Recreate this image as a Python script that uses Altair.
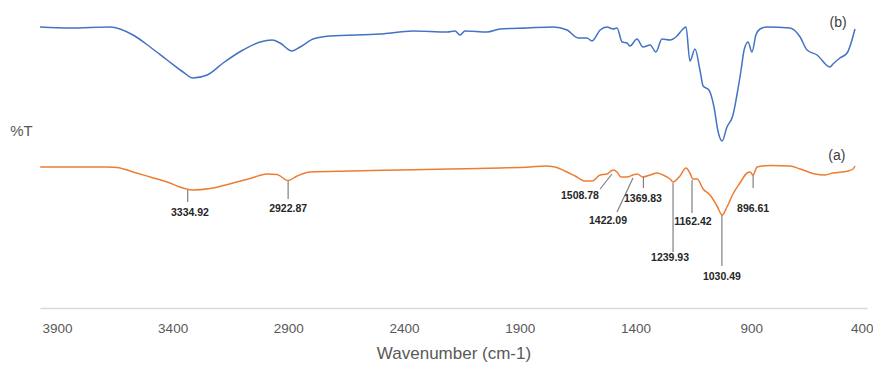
import altair as alt
import pandas as pd

# ---- spectrum (b), blue (upper trace) : wavenumber, %T (offset units)
b_wn = [3973, 3843, 3670, 3571, 3497, 3424, 3355, 3312, 3251, 3182, 3096, 3022, 2970, 2936,
        2884, 2849, 2793, 2720, 2504, 2361, 2214, 2180, 2158, 2137, 2042, 1985, 1869, 1756,
        1696, 1648, 1610, 1588, 1553, 1523, 1497, 1480, 1458, 1437, 1424, 1394, 1368, 1337,
        1312, 1286, 1251, 1221, 1199, 1182, 1165, 1143, 1121, 1108, 1083, 1061, 1044, 1026,
        1005, 979, 962, 944, 931, 914, 897, 880, 862, 832, 733, 689, 659, 616, 560, 547,
        517, 486, 452]
b_t = [281, 280, 281, 273, 261, 248, 236, 230, 233, 245, 258, 266, 268, 265,
       257, 261, 269, 272, 274, 277, 276, 277, 273, 277, 276, 279, 280, 281,
       278, 270, 270, 267, 278, 281, 279, 280, 266, 265, 262, 269, 261, 263,
       256, 269, 268, 272, 278, 281, 247, 259, 237, 222, 218, 201, 177, 167,
       181, 193, 213, 238, 258, 266, 256, 273, 279, 281, 280, 271, 258, 253, 241, 244,
       250, 255, 279]

# ---- spectrum (a), orange (lower trace)
a_wn = [3972, 3683, 3640, 3571, 3497, 3424, 3355, 3312, 3238, 3139, 3065, 2992, 2949, 2901,
        2862, 2806, 2633, 2417, 2201, 1985, 1856, 1791, 1748, 1705, 1661, 1618, 1588, 1553,
        1523, 1497, 1480, 1463, 1437, 1411, 1393, 1368, 1337, 1307, 1281, 1251, 1238, 1208,
        1182, 1165, 1152, 1134, 1108, 1078, 1048, 1026, 1005, 979, 949, 918, 905, 892, 875,
        819, 733, 689, 625, 581, 547, 482, 460, 452]
a_t = [141, 141, 140.5, 136, 131, 126, 120, 118, 119.5, 125, 129.5, 134, 133.5, 127.5,
       132, 136, 137, 138, 139, 140, 141, 142, 141, 137, 132, 127, 127, 133,
       134, 138, 136, 131, 131, 133, 134, 131, 133, 135, 133, 129, 126, 132,
       140, 135, 129, 129, 119, 113, 102, 93, 101, 114, 125, 135, 136, 133, 141,
       142.5, 142, 139, 134, 133, 135, 137, 139, 142]

# ---- peak annotations on (a)
ann_label = ["3334.92", "2922.87", "1508.78", "1422.09", "1369.83", "1239.93", "1162.42", "1030.49", "896.61"]
ann_x1 = [3334.92, 2901, 1502, 1411, 1366, 1238, 1156, 1027, 892]
ann_y1 = [118, 127, 134, 130, 131, 125, 128, 93, 133]
ann_x2 = [3334.92, 2901, 1553, 1480, 1366, 1238, 1156, 1027, 892]
ann_y2 = [106, 109, 119, 96, 120, 56, 95, 42, 120]
ann_tx = [3325, 2901, 1640, 1519, 1368, 1251, 1152, 1027, 892]
ann_ty = [95, 99, 112, 87, 109, 50, 86, 31, 99]

# ---- series tags
tag_text = ["(b)", "(a)"]
tag_wn = [525, 530]
tag_t = [285, 152]

x_ticks = [3900, 3400, 2900, 2400, 1900, 1400, 900, 400]

FONT = "Liberation Sans"

df_b = pd.DataFrame({"wn": b_wn, "t": b_t})
df_a = pd.DataFrame({"wn": a_wn, "t": a_t})
df_ann = pd.DataFrame({"label": ann_label, "x1": ann_x1, "y1": ann_y1, "x2": ann_x2,
                       "y2": ann_y2, "tx": ann_tx, "ty": ann_ty})
df_tag = pd.DataFrame({"text": tag_text, "wn": tag_wn, "t": tag_t})

xscale = alt.Scale(domain=[400, 3973], reverse=True, nice=False, zero=False)
yscale = alt.Scale(domain=[0, 298], nice=False, zero=False)

last_tick = "datum.value == %d" % x_ticks[-1]
xaxis = alt.Axis(values=x_ticks, format="d", ticks=False, grid=False,
                 domainColor="#d9d9d9", domainWidth=1.5,
                 labelColor="#595959", labelFontSize=13.5, labelFont=FONT,
                 labelPadding=13, labelFlush=False,
                 labelAlign=alt.condition(last_tick, alt.value("right"), alt.value("center")),
                 labelOffset=alt.condition(last_tick, alt.value(6), alt.value(0)),
                 title="Wavenumber (cm-1)", titleColor="#595959", titleFont=FONT,
                 titleFontSize=17, titleFontWeight="normal", titlePadding=11)
yaxis = alt.Axis(labels=False, ticks=False, domain=False, grid=False,
                 title="%T", titleAngle=0, titleX=-19, titleY=120, titleAlign="center",
                 titleBaseline="middle", titleColor="#595959", titleFont=FONT,
                 titleFontSize=15, titleFontWeight="normal")

line_b = alt.Chart(df_b).mark_line(color="#4472C4", strokeWidth=1.5, interpolate="monotone").encode(
    x=alt.X("wn:Q", scale=xscale, axis=xaxis),
    y=alt.Y("t:Q", scale=yscale, axis=yaxis),
)
line_a = alt.Chart(df_a).mark_line(color="#ED7D31", strokeWidth=1.5, interpolate="monotone").encode(
    x=alt.X("wn:Q", scale=xscale),
    y=alt.Y("t:Q", scale=yscale),
)
leaders = alt.Chart(df_ann).mark_rule(color="#808080", strokeWidth=1.2).encode(
    x=alt.X("x1:Q", scale=xscale), x2="x2:Q",
    y=alt.Y("y1:Q", scale=yscale), y2="y2:Q",
)
labels = alt.Chart(df_ann).mark_text(font=FONT, fontSize=10.5, fontWeight="bold",
                                     color="#262626").encode(
    x=alt.X("tx:Q", scale=xscale), y=alt.Y("ty:Q", scale=yscale), text="label:N")
tags = alt.Chart(df_tag).mark_text(font=FONT, fontSize=14, color="#404040").encode(
    x=alt.X("wn:Q", scale=xscale), y=alt.Y("t:Q", scale=yscale), text="text:N")

chart = alt.layer(line_b, line_a, leaders, labels, tags).properties(
    width=827, height=298,
    background="white",
    autosize=alt.AutoSizeParams(type="none"),
    padding={"left": 32, "top": 2, "right": 6, "bottom": 58},
).configure_view(stroke=None)

chart.save("out.html", embed_options={"renderer": "svg", "actions": False})
